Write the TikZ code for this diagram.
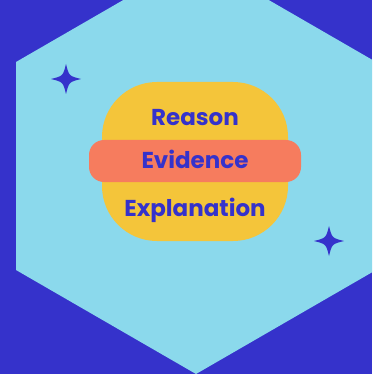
\documentclass[tikz,border=0pt]{standalone}
\usepackage{fontspec}
\newfontfamily\poppins{Poppins}
\definecolor{nenxanh}{HTML}{3532CB}
\definecolor{xanhnhat}{HTML}{8BD9EC}
\definecolor{vang}{HTML}{F4C53A}
\definecolor{camhong}{HTML}{F67C5E}
\begin{document}
\begin{tikzpicture}[x=1pt, y=-1pt,
    word/.style={font=\poppins\bfseries\fontsize{23}{27}\selectfont, text=nenxanh, anchor=base}]
    % Nền
    \useasboundingbox (0,0) rectangle (372,374);
    \clip (0,0) rectangle (372,374);
    \fill[nenxanh] (0,0) rectangle (372,374);
    % Lục giác
    \fill[xanhnhat] (196,-42) -- (376,62) -- (376,270) -- (196,374) -- (16,270) -- (16,62) -- cycle;
    % Ngôi sao
    \foreach \cx/\cy in {66/79, 329/241}
        \fill[nenxanh, shift={(\cx,\cy)}] (0,-15) .. controls (3,-3) .. (15,0)
            .. controls (3,3) .. (0,15) .. controls (-3,3) .. (-15,0)
            .. controls (-3,-3) .. cycle;
    % Khung
    \node[fill=vang, rounded corners=55pt, minimum width=186pt, minimum height=159pt] (khung) at (195,161.5) {};
    \node[fill=camhong, rounded corners=15pt, minimum width=212pt, minimum height=42pt] (thanh) at (195,161) {};
    % Chữ
    \node[word] (reason) at (195,126) {Reason};
    \node[word] (evidence) at (195,168) {Evidence};
    \node[word] (explanation) at (195,216) {Explanation};
\end{tikzpicture}
\end{document}
